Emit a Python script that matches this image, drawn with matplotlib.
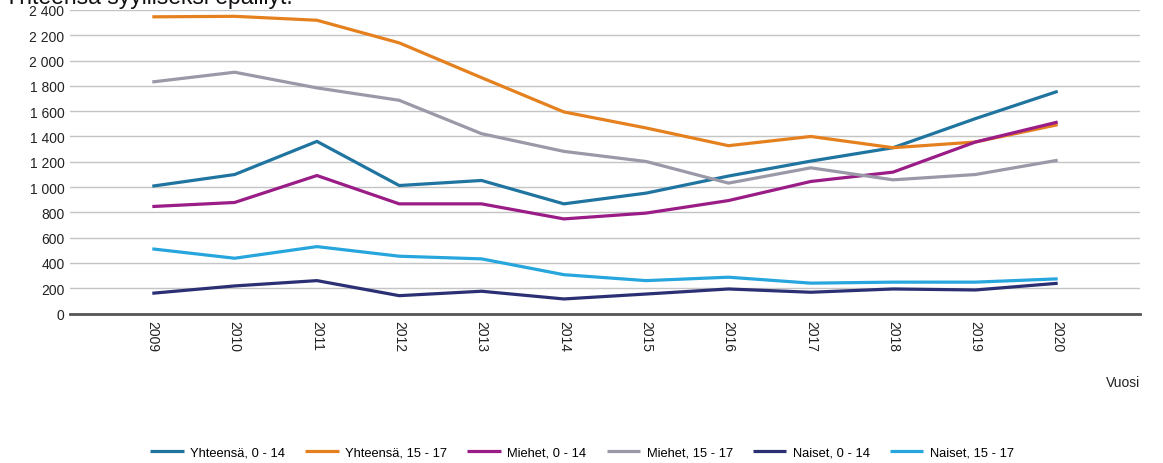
import matplotlib
matplotlib.use("Agg")
from matplotlib import pyplot as plt
from matplotlib.ticker import FuncFormatter

years = [2009, 2010, 2011, 2012, 2013, 2014, 2015, 2016, 2017, 2018, 2019, 2020]

yht_0_14 = [1007, 1099, 1361, 1012, 1052, 867, 952, 1087, 1205, 1311, 1541, 1757]
yht_15_17 = [2346, 2350, 2319, 2140, 1865, 1594, 1467, 1327, 1400, 1311, 1356, 1493]
mie_0_14 = [846, 878, 1091, 867, 867, 748, 794, 893, 1044, 1118, 1356, 1514]
mie_15_17 = [1831, 1908, 1784, 1686, 1422, 1282, 1202, 1031, 1152, 1057, 1099, 1212]
nai_0_14 = [160, 218, 260, 141, 176, 115, 154, 194, 168, 194, 186, 239]
nai_15_17 = [511, 437, 529, 453, 432, 307, 260, 287, 240, 248, 248, 274]

series = [
    ("Yhteensä, 0 - 14", yht_0_14, "#1f74a0"),
    ("Yhteensä, 15 - 17", yht_15_17, "#e5801f"),
    ("Miehet, 0 - 14", mie_0_14, "#9a1c86"),
    ("Miehet, 15 - 17", mie_15_17, "#9a99a8"),
    ("Naiset, 0 - 14", nai_0_14, "#2b3074"),
    ("Naiset, 15 - 17", nai_15_17, "#26a6dc"),
]

plt.rcParams["font.family"] = ["Liberation Sans", "DejaVu Sans"]

fig = plt.figure(figsize=(11.63, 4.64), dpi=100)
ax = fig.add_axes([70 / 1163, 1 - 314.5 / 464, 1070 / 1163, (314.5 - 11) / 464])

for label, vals, color in series:
    ax.plot(years, vals, color=color, linewidth=2.3, label=label, solid_capstyle="butt")

ax.set_xlim(2008, 2021)
ax.set_ylim(0, 2400)
ax.set_yticks(range(0, 2401, 200))
ax.yaxis.set_major_formatter(FuncFormatter(lambda v, p: f"{int(v):,}".replace(",", " ")))
ax.set_xticks(years)
ax.set_xticklabels([str(y) for y in years], rotation=-90)

ax.grid(axis="y", color="#c4c4c4", linewidth=1)
ax.set_axisbelow(True)
for s in ["top", "right", "left"]:
    ax.spines[s].set_visible(False)
ax.spines["bottom"].set_color("#555555")
ax.spines["bottom"].set_linewidth(2)
ax.tick_params(axis="both", length=0, labelsize=10, colors="#222222")
ax.tick_params(axis="x", pad=5)
ax.tick_params(axis="y", pad=4)

fig.text(1140 / 1163, 1 - 383 / 464, "Vuosi", ha="right", va="center", fontsize=10, color="#222222")
# title is cut at the top edge, like in the source picture
fig.text(4 / 1163, 1 - 9 / 464, "Yhteensä syylliseksi epäillyt.", ha="left", va="bottom",
         fontsize=16.5, color="#111111")

handles, labels = ax.get_legend_handles_labels()
fig.legend(handles, labels, loc="center", bbox_to_anchor=(582 / 1163, 1 - 453 / 464), ncol=6,
           frameon=False, fontsize=9.3, handlelength=2.6, columnspacing=1.55, handletextpad=0.5)

fig.savefig("out.png", dpi=100, facecolor="white")
